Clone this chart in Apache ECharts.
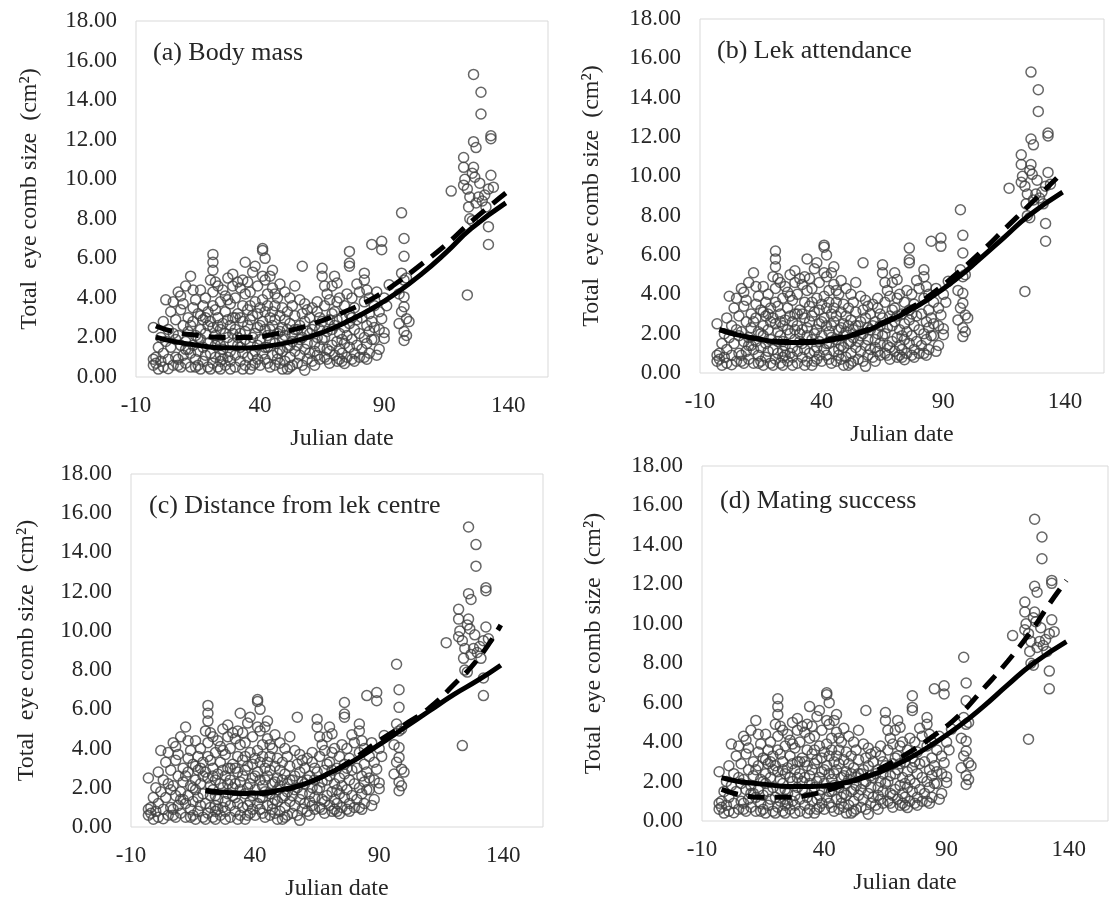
<!DOCTYPE html>
<html>
<head>
<meta charset="utf-8">
<script src="https://cdn.jsdelivr.net/npm/echarts@6/dist/echarts.min.js"></script>
<style>
  html, body { margin: 0; padding: 0; background: #fff; }
  #chart { width: 1110px; height: 902px; }
</style>
</head>
<body>
<div id="chart"></div>
<script>
// eye comb size (cm2) against Julian date, same birds in every panel
const points = [
  [-3,2.5],[-3,0.9],[-3,0.6],[-2,0.7],[-2,1.0],[-1,0.4],[-1,1.5],[0,0.8],[0,2.0],
  [1,2.8],[1,1.2],[1,0.5],[2,1.8],[2,3.9],[3,0.9],[3,0.42],[3,2.4],[4,1.5],[4,3.3],[5,3.8],[5,0.6],[5,2.2],
  [6,2.9],[6,1.0],[7,4.3],[7,0.6],[7,2.1],[8,3.4],[8,1.6],[8,4.1],[8,0.5],[9,2.6],[9,1.1],[9,3.7],[6,1.9],[7,0.9],[10,1.4],
  [10,4.6],[10,1.8],[10,0.7],[11,3.0],[11,2.3],[12,1.2],[12,5.1],[12,0.5],[13,2.8],[13,3.5],[13,1.6],[14,0.9],[14,2.1],[14,3.9],[11,1.4],[12,2.6],[13,4.4],[14,0.5],
  [15,3.2],[15,1.3],[15,0.6],[16,2.4],[16,4.4],[16,1.9],[17,0.8],[17,3.6],[17,2.9],[18,1.1],[18,4.0],[18,2.2],[19,0.5],[19,3.3],[19,1.7],[15,2.0],[16,0.4],[17,1.5],[18,3.0],[19,2.6],[20,4.9],[16,3.1],
  [21,6.2],[21,5.8],[21,5.4],[20,2.8],[20,1.2],[21,4.3],[21,0.7],[21,3.6],[22,2.1],[22,1.6],[22,4.8],[23,3.0],[23,0.5],[23,4.6],[24,2.4],[24,1.1],[24,3.8],[20,0.4],[21,2.5],[22,3.4],[23,1.9],[24,0.8],[24,0.4],[22,1.0],[23,2.6],[24,1.6],
  [25,2.7],[25,1.4],[26,4.1],[26,0.6],[26,3.3],[27,2.0],[27,5.0],[27,1.0],[28,3.7],[28,2.6],[28,0.4],[29,4.6],[29,1.7],[29,3.0],[25,0.9],[26,2.2],[27,3.9],[28,1.3],[29,5.2],[30,2.4],[25,4.4],[27,2.9],[28,0.8],[29,2.2],
  [30,4.0],[30,1.1],[30,0.5],[31,3.2],[31,2.0],[31,4.8],[32,1.5],[32,4.5],[32,0.8],[33,2.8],[33,3.6],[33,1.2],[34,5.8],[34,2.3],[34,0.6],[31,1.6],[32,3.0],[33,4.9],[34,1.9],[35,3.4],[30,3.0],[32,2.2],[33,0.4],[34,4.2],
  [35,1.0],[35,2.6],[36,4.3],[36,1.7],[36,0.4],[37,3.1],[37,5.3],[37,2.0],[38,1.3],[38,3.8],[38,0.7],[38,5.6],[39,2.5],[39,4.6],[39,1.6],[35,4.8],[36,2.9],[37,1.1],[38,2.2],[39,0.9],[40,3.5],[36,3.6],[39,3.2],[37,0.6],
  [41,6.5],[41,6.4],[42,6.0],[40,1.9],[40,0.6],[41,5.1],[41,2.8],[41,1.2],[42,4.9],[42,3.3],[42,0.9],[43,2.1],[43,4.2],[43,1.5],[44,3.0],[44,0.5],[44,5.1],[41,3.9],[42,2.4],[43,0.7],[44,1.8],[45,5.4],[40,2.6],[43,3.6],[44,2.4],[42,1.5],
  [45,4.5],[45,2.6],[45,1.1],[46,3.6],[46,1.7],[46,0.6],[47,2.2],[47,4.0],[47,0.9],[48,3.1],[48,1.4],[48,4.7],[49,2.5],[49,0.4],[49,3.5],[46,2.9],[47,1.2],[48,0.7],[49,1.9],[50,4.3],[45,3.3],[46,4.2],[48,2.3],[49,1.3],
  [50,2.1],[50,0.8],[51,3.3],[51,1.5],[51,0.4],[52,2.7],[52,4.0],[52,1.0],[53,3.6],[53,1.8],[53,0.6],[54,2.4],[54,4.6],[54,1.3],[50,2.9],[52,0.5],[53,2.2],[54,3.1],[51,2.4],[52,1.6],
  [55,1.6],[55,0.7],[56,2.6],[56,1.1],[57,3.2],[57,5.6],[57,2.0],[58,1.4],[58,0.34],[58,3.7],[59,2.3],[59,0.9],[56,3.9],[58,2.8],[59,1.7],[60,3.0],[55,2.4],[57,0.6],[56,1.9],[59,3.4],
  [60,1.2],[60,2.2],[61,0.8],[61,3.5],[62,1.7],[62,2.6],[63,3.8],[63,1.1],[63,2.0],[64,3.0],[64,0.9],[61,2.4],[62,0.6],[63,3.3],[64,1.5],[65,5.5],[65,5.1],[64,2.4],[62,1.3],
  [65,1.9],[65,2.8],[66,1.0],[66,3.6],[66,4.6],[67,2.3],[67,1.4],[67,4.2],[68,0.7],[68,2.9],[68,3.9],[69,1.6],[69,2.4],[69,3.2],[66,2.0],[67,0.9],[68,1.3],[70,3.3],[70,5.1],[69,4.6],
  [70,1.1],[70,2.6],[71,1.8],[71,3.8],[71,0.8],[71,4.75],[72,2.2],[72,4.0],[72,1.4],[73,3.0],[73,0.8],[74,2.5],[74,1.7],[74,0.68],[71,2.9],[72,0.9],[73,1.9],[74,3.6],[75,4.2],[73,1.2],
  [75,1.0],[75,2.1],[76,6.35],[76,5.76],[76,5.6],[76,3.2],[76,1.5],[76,2.7],[77,4.0],[77,0.9],[77,1.9],[78,2.4],[78,3.5],[78,1.2],[79,4.7],[79,2.9],[79,1.6],[80,4.3],[80,2.2],[80,1.0],[77,3.0],[78,0.8],
  [81,3.0],[81,1.4],[82,5.25],[82,4.9],[82,2.0],[82,3.8],[82,1.0],[83,2.6],[83,4.4],[83,1.7],[84,3.2],[84,2.3],[84,1.2],[85,2.8],[83,0.9],[85,1.9],[84,4.0],
  [85,6.7],[89,6.86],[89,6.44],[87,4.3],[92,4.66],[86,3.6],[86,1.9],[86,2.5],[88,2.4],[88,3.3],[89,2.95],[90,2.25],[90,1.95],[91,3.6],[88,1.4],[90,4.0],[87,1.1],
  [97,8.3],[98,7.0],[98,6.1],[97,5.25],[96,2.7],[98,4.9],[98,4.05],[98,3.55],[99,2.95],[98,2.3],[98,1.85],[99,2.1],[100,2.8],[96,4.2],[97,3.3],[99,5.0],
  [126,15.3],[129,14.4],[129,13.3],[133,12.2],[133,12.05],[126,11.9],[127,11.6],[122,11.1],[122,10.6],[126,10.6],[125.5,10.3],[126.5,10.1],[133,10.2],
  [117,9.4],[122,9.7],[123.5,9.5],[124.5,9.1],[128,9.1],[132,9.5],[134,9.6],[131,8.6],[124,8.6],[124.5,8.0],[125.5,7.9],[132,7.6],[132,6.7],[123.5,4.15],
  [128.5,9.8],[129.5,8.9],[122.5,10.0],[127,8.8],[130.5,9.2]
];

// fitted curves, solid and dashed, one pair per panel
const solidA = [[-2,2.02],[5,1.8],[15,1.6],[25,1.48],[35,1.47],[45,1.6],[55,1.85],[65,2.25],[75,2.8],[85,3.45],[95,4.25],[105,5.2],[115,6.3],[125,7.5],[139,8.8]];
const dashedA = [[-2,2.58],[5,2.3],[15,2.1],[25,2.0],[35,2.0],[45,2.15],[55,2.45],[65,2.85],[75,3.35],[85,3.95],[95,4.75],[105,5.7],[115,6.7],[125,7.85],[139,9.3]];
const solidB = [[-2,2.2],[5,1.95],[15,1.7],[25,1.55],[35,1.55],[45,1.7],[55,2.0],[65,2.5],[75,3.1],[85,3.85],[95,4.75],[105,5.8],[115,6.9],[125,8.0],[139,9.2]];
const dashedB = [[-2,2.2],[5,1.95],[15,1.72],[25,1.6],[35,1.6],[45,1.75],[55,2.05],[65,2.55],[75,3.2],[85,4.0],[95,5.0],[105,6.1],[115,7.3],[125,8.5],[139,10.2]];
const solidC = [[20,1.87],[30,1.75],[40,1.72],[50,1.88],[60,2.2],[70,2.75],[80,3.4],[90,4.2],[100,5.05],[110,5.9],[120,6.75],[130,7.5],[139,8.25]];
const dashedC = [[20,1.85],[30,1.72],[40,1.7],[50,1.85],[60,2.2],[70,2.75],[80,3.5],[90,4.4],[100,5.2],[110,6.05],[120,7.25],[130,8.6],[139,10.3]];
const solidD = [[-2,2.2],[5,2.0],[15,1.87],[25,1.75],[35,1.75],[45,1.86],[55,2.15],[65,2.6],[75,3.2],[85,3.95],[95,4.8],[105,5.8],[115,6.9],[125,7.95],[139,9.1]];
const dashedD = [[-2,1.6],[5,1.35],[15,1.2],[25,1.2],[35,1.35],[45,1.7],[55,2.2],[65,2.8],[75,3.5],[85,4.35],[95,5.35],[105,6.7],[115,8.1],[125,9.7],[132,11.0],[139,12.2]];

const panelLabels = ['(a) Body mass', '(b) Lek attendance', '(c) Distance from lek centre', '(d) Mating success'];
const xTitle = 'Julian date';
const yTitle = 'Total  eye comb size  (cm²)';

const solids = [solidA, solidB, solidC, solidD];
const dashes = [dashedA, dashedB, dashedC, dashedD];

const font = 'Liberation Serif';
const textColor = '#262626';

// plot frames in pixels
const grids = [
  { left: 136, top: 21, width: 412, height: 356 },
  { left: 700, top: 19, width: 404, height: 354 },
  { left: 131, top: 474, width: 412, height: 355 },
  { left: 702, top: 466, width: 406, height: 355 },
];
const yNameGaps = [94, 96, 92, 96];
const labelPos = [[153, 40], [717, 38], [149, 493], [720, 488]];

const chart = echarts.init(document.getElementById('chart'));

const option = {
  animation: false,
  backgroundColor: '#fff',
  title: panelLabels.map((t, i) => ({
    text: t,
    left: labelPos[i][0],
    top: labelPos[i][1],
    padding: 0,
    textStyle: { fontFamily: font, fontSize: 26, fontWeight: 'normal', color: textColor },
  })),
  grid: grids.map(g => ({ ...g, show: true, borderColor: '#d9d9d9', borderWidth: 1, containLabel: false })),
  xAxis: grids.map((g, i) => ({
    type: 'value',
    gridIndex: i,
    min: -10,
    max: 156,
    interval: 50,
    name: xTitle,
    nameLocation: 'middle',
    nameGap: 50,
    nameTextStyle: { fontFamily: font, fontSize: 24, color: textColor },
    axisLine: { show: false },
    axisTick: { show: false },
    splitLine: { show: false },
    axisLabel: { showMaxLabel: false, margin: 17, fontFamily: font, fontSize: 23, color: textColor },
  })),
  yAxis: grids.map((g, i) => ({
    type: 'value',
    gridIndex: i,
    min: 0,
    max: 18,
    interval: 2,
    name: yTitle,
    nameLocation: 'middle',
    nameGap: yNameGaps[i],
    nameTextStyle: { fontFamily: font, fontSize: 24, color: textColor },
    axisLine: { show: false },
    axisTick: { show: false },
    splitLine: { show: false },
    axisLabel: { margin: 19, fontFamily: font, fontSize: 23, color: textColor, formatter: v => v.toFixed(2) },
  })),
  series: [],
};

for (let i = 0; i < 4; i++) {
  option.series.push({
    type: 'scatter',
    xAxisIndex: i,
    yAxisIndex: i,
    data: points,
    symbol: 'circle',
    symbolSize: 10,
    itemStyle: { color: 'rgba(0,0,0,0)', borderColor: '#404040', borderWidth: 1.5 },
    z: 2,
  });
  option.series.push({
    type: 'line',
    xAxisIndex: i,
    yAxisIndex: i,
    data: solids[i],
    smooth: true,
    showSymbol: false,
    lineStyle: { color: '#000', width: 5 },
    z: 3,
  });
  option.series.push({
    type: 'line',
    xAxisIndex: i,
    yAxisIndex: i,
    data: dashes[i],
    smooth: true,
    showSymbol: false,
    lineStyle: { color: '#000', width: 5, type: [17, 10] },
    z: 4,
  });
}

chart.setOption(option);
</script>
</body>
</html>
